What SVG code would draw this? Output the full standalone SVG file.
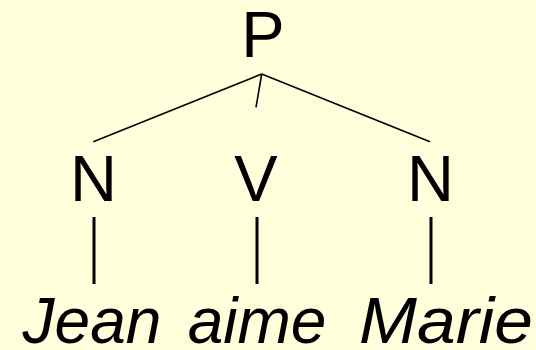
<svg xmlns="http://www.w3.org/2000/svg" width="536" height="350" viewBox="0 0 536 350">
  <style>
    .cat { font-family: "Liberation Sans", Arial, sans-serif; font-size: 65px; fill: #000; text-anchor: middle; }
    .word { font-family: "Liberation Sans", Arial, sans-serif; font-size: 64px; font-style: italic; fill: #000; text-anchor: middle; }
    .branch { stroke: #000; stroke-width: 1.6; fill: none; }
    .stem { stroke: #000; stroke-width: 3; fill: none; }
  </style>
  <rect width="536" height="350" fill="#FFFFDC"/>
  <g id="connectors">
    <line class="branch" x1="261.7" y1="74" x2="93.3" y2="141.7"/>
    <line class="branch" x1="261.7" y1="74" x2="256" y2="107.3"/>
    <line class="branch" x1="261.7" y1="74" x2="430" y2="141.7"/>
    <line class="stem" x1="94" y1="217" x2="94" y2="284"/>
    <line class="stem" x1="257" y1="217" x2="257" y2="284"/>
    <line class="stem" x1="431" y1="217" x2="431" y2="284"/>
  </g>
  <g id="node-P"><text class="cat" x="263" y="56.5">P</text></g>
  <g id="node-N1"><text class="cat" x="93.5" y="201">N</text></g>
  <g id="node-V"><text class="cat" x="256" y="201">V</text></g>
  <g id="node-N2"><text class="cat" x="430.5" y="201">N</text></g>
  <g id="word-Jean"><text class="word" x="92" y="343">Jean</text></g>
  <g id="word-aime"><text class="word" x="257" y="343">aime</text></g>
  <g id="word-Marie"><text class="word" x="446" y="343" textLength="174" lengthAdjust="spacingAndGlyphs">Marie</text></g>
</svg>
